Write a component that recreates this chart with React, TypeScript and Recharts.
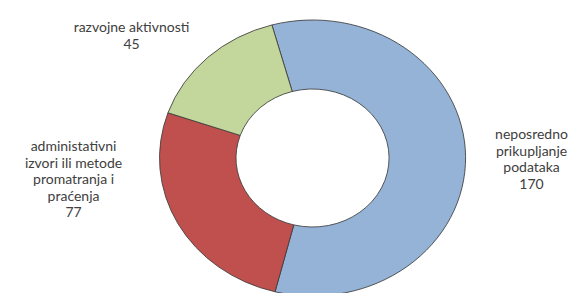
import { PieChart, Pie, Cell } from 'recharts'

// categories (label lines as printed on the chart) and values
const categories = [
  ['neposredno', 'prikupljanje', 'podataka'],
  ['administativni', 'izvori ili metode', 'promatranja i', 'praćenja'],
  ['razvojne aktivnosti'],
]
const values = [170, 77, 45]
const COLORS = ['#95B3D7', '#C0504D', '#C3D69B']

const data = categories.map((lines, i) => ({ name: lines.join(' '), lines, value: values[i] }))

// the original donut is a bit wider than tall
const STRETCH = 1.109
const CX = 307
const CY = 153

// label anchor (page x, first baseline y) per slice
const LABEL_POS = [
  { x: 531, y: 139 },
  { x: 73, y: 151 },
  { x: 131, y: 32 },
]
const LINE_H = 16.6

function renderLabel(props: any) {
  const { index, cx } = props
  const p = LABEL_POS[index]
  const d = data[index]
  const x = cx + (p.x - cx) / STRETCH
  const rows = [...d.lines, String(d.value)]
  return (
    <g transform={`translate(${x},${p.y}) scale(${1 / STRETCH},1)`}>
      <text textAnchor="middle" fontSize={14} fill="#404040" fontFamily="Lato, sans-serif">
        {rows.map((r, i) => (
          <tspan key={i} x={0} y={i * LINE_H}>{r}</tspan>
        ))}
      </text>
    </g>
  )
}

export default function App() {
  return (
    <div style={{ position: 'absolute', left: 0, top: 0, width: 574, height: 293, background: '#fff', overflow: 'hidden' }}>
      <PieChart
        width={574}
        height={293}
        style={{ transform: `scaleX(${STRETCH})`, transformOrigin: `${CX}px ${CY}px` }}
      >
        <Pie
          data={data}
          dataKey="value"
          cx={CX}
          cy={CY}
          innerRadius={69}
          outerRadius={138}
          startAngle={105.4}
          endAngle={-254.6}
          stroke="#3a3a3a"
          strokeWidth={0.8}
          label={renderLabel}
          labelLine={false}
          isAnimationActive={false}
        >
          {data.map((_, i) => <Cell key={i} fill={COLORS[i]} />)}
        </Pie>
      </PieChart>
    </div>
  )
}
